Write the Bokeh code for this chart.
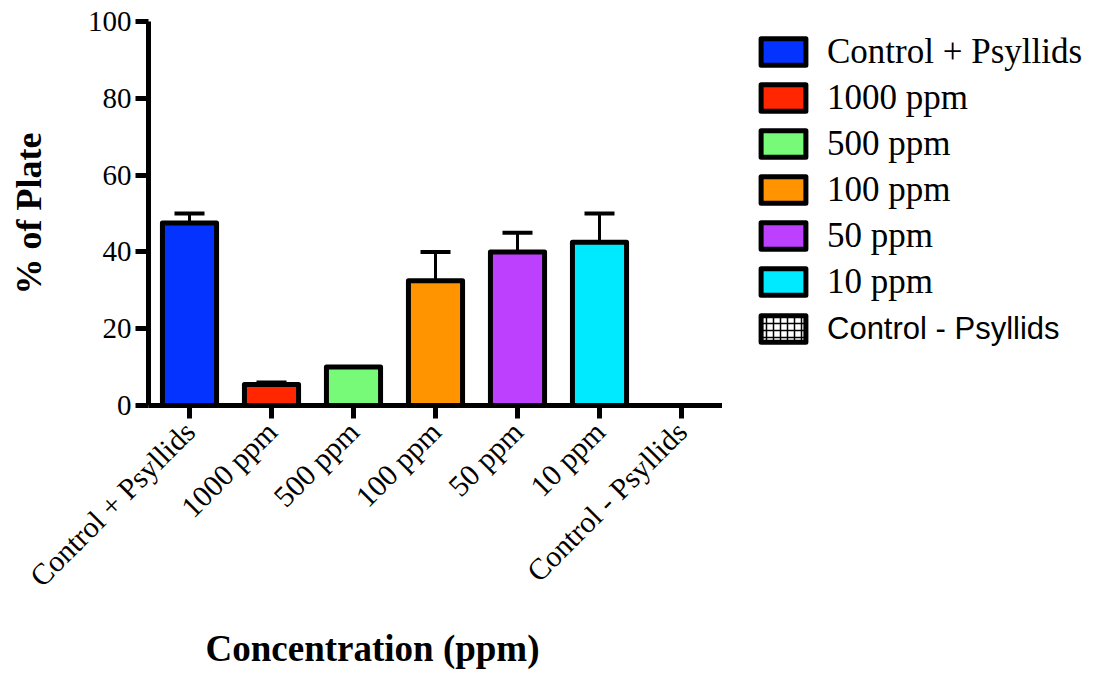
from math import pi
from bokeh.plotting import figure
from bokeh.layouts import row
from bokeh.models import (ColumnDataSource, FactorRange, Range1d, FixedTicker, Whisker,
                          TeeHead, Legend, LegendItem, Title)
from bokeh.embed import file_html
from bokeh.resources import INLINE

categories = ["Control + Psyllids", "1000 ppm", "500 ppm", "100 ppm", "50 ppm", "10 ppm",
              "Control - Psyllids"]
values = [47.5, 5.5, 10.0, 32.5, 40.0, 42.5, 0.0]
errors = [2.5, 0.5, 0.0, 7.5, 5.0, 7.5, 0.0]
colors = ["#0433FF", "#FF2600", "#76FA78", "#FF9300", "#BE40FF", "#00EAFF", "#FFFFFF"]
hatches = [" ", " ", " ", " ", " ", " ", "+"]
y_ticks = [0, 20, 40, 60, 80, 100]

SERIF = "Liberation Serif"
SANS = "Liberation Sans"

p = figure(x_range=FactorRange(*categories, range_padding=0), y_range=Range1d(0, 100),
           width=722, height=673, output_backend="svg", toolbar_location=None,
           min_border_left=148, min_border_right=0, min_border_top=21, min_border_bottom=268)
p.outline_line_color = None
p.xgrid.visible = False
p.ygrid.visible = False
p.border_fill_color = "white"

src = ColumnDataSource(dict(cat=categories, val=values, color=colors, hatch=hatches))
bar_style = dict(width=0.66, fill_color="color", line_color="black", line_width=5,
                 line_join="round", hatch_pattern="hatch", hatch_color="black",
                 hatch_scale=7, hatch_weight=1.5)
r = p.vbar(x="cat", top="val", source=src, **bar_style)

ecat = [c for c, e in zip(categories, errors) if e > 0]
elow = [v for v, e in zip(values, errors) if e > 0]
eup = [v + e for v, e in zip(values, errors) if e > 0]
esrc = ColumnDataSource(dict(cat=ecat, lower=elow, upper=eup))
w = Whisker(base="cat", lower="lower", upper="upper", source=esrc, dimension="height",
            line_color="black", line_width=3, lower_head=None,
            upper_head=TeeHead(size=30, line_width=4, line_color="black"), level="glyph")
p.add_layout(w)

for ax in (p.xaxis[0], p.yaxis[0]):
    ax.axis_line_width = 5
    ax.axis_line_color = "black"
    ax.major_tick_line_width = 5
    ax.major_tick_line_color = "black"
    ax.major_tick_out = 13
    ax.major_tick_in = 0
    ax.minor_tick_line_color = None
    ax.major_label_text_font = SERIF
    ax.major_label_text_color = "black"

p.yaxis[0].ticker = FixedTicker(ticks=y_ticks)
p.yaxis[0].major_label_text_font_size = "29px"
p.yaxis[0].major_label_standoff = 4
p.yaxis[0].axis_label = "% of Plate"
p.yaxis[0].axis_label_text_font = SERIF
p.yaxis[0].axis_label_text_font_style = "bold"
p.yaxis[0].axis_label_text_font_size = "36px"
p.yaxis[0].axis_label_text_color = "black"
p.yaxis[0].axis_label_standoff = 36

p.xaxis[0].major_label_orientation = pi / 4
p.xaxis[0].major_label_text_font_size = "30px"
p.xaxis[0].major_label_standoff = 8

title_kw = dict(text="Concentration (ppm)", align="left", offset=57,
                text_font=SERIF, text_font_style="bold", text_font_size="37px",
                text_color="black")
try:
    xtitle = Title(vertical_align="top", standoff=6,
                   padding=dict(top=17, right=0, bottom=0, left=0), **title_kw)
except Exception:
    xtitle = Title(standoff=23, **title_kw)
p.add_layout(xtitle, "below")

# legend panel
p2 = figure(x_range=FactorRange(*categories), y_range=Range1d(1000, 2000),
            width=377, height=673, output_backend="svg", toolbar_location=None,
            x_axis_location=None, y_axis_location=None, min_border=0)
p2.outline_line_color = None
p2.xgrid.visible = False
p2.ygrid.visible = False
r2 = p2.vbar(x="cat", top="val", source=src, **bar_style)
r2.visible = False

items1 = [LegendItem(label=categories[i], renderers=[r2], index=i) for i in range(6)]
items2 = [LegendItem(label=categories[6], renderers=[r2], index=6)]

common = dict(glyph_width=56, glyph_height=33, label_height=41, label_standoff=16,
              padding=0, margin=0, border_line_color=None, background_fill_alpha=0,
              label_text_color="black", spacing=5, inactive_fill_alpha=0)
leg1 = Legend(items=items1, location=(33, 103),
              label_text_font=SERIF, label_text_font_size="35px", **common)
leg2 = Legend(items=items2, location=(33, 56),
              label_text_font=SANS, label_text_font_size="31px", **common)
p2.add_layout(leg1)
p2.add_layout(leg2)

open("out.html", "w").write(file_html(row(p, p2), INLINE))
